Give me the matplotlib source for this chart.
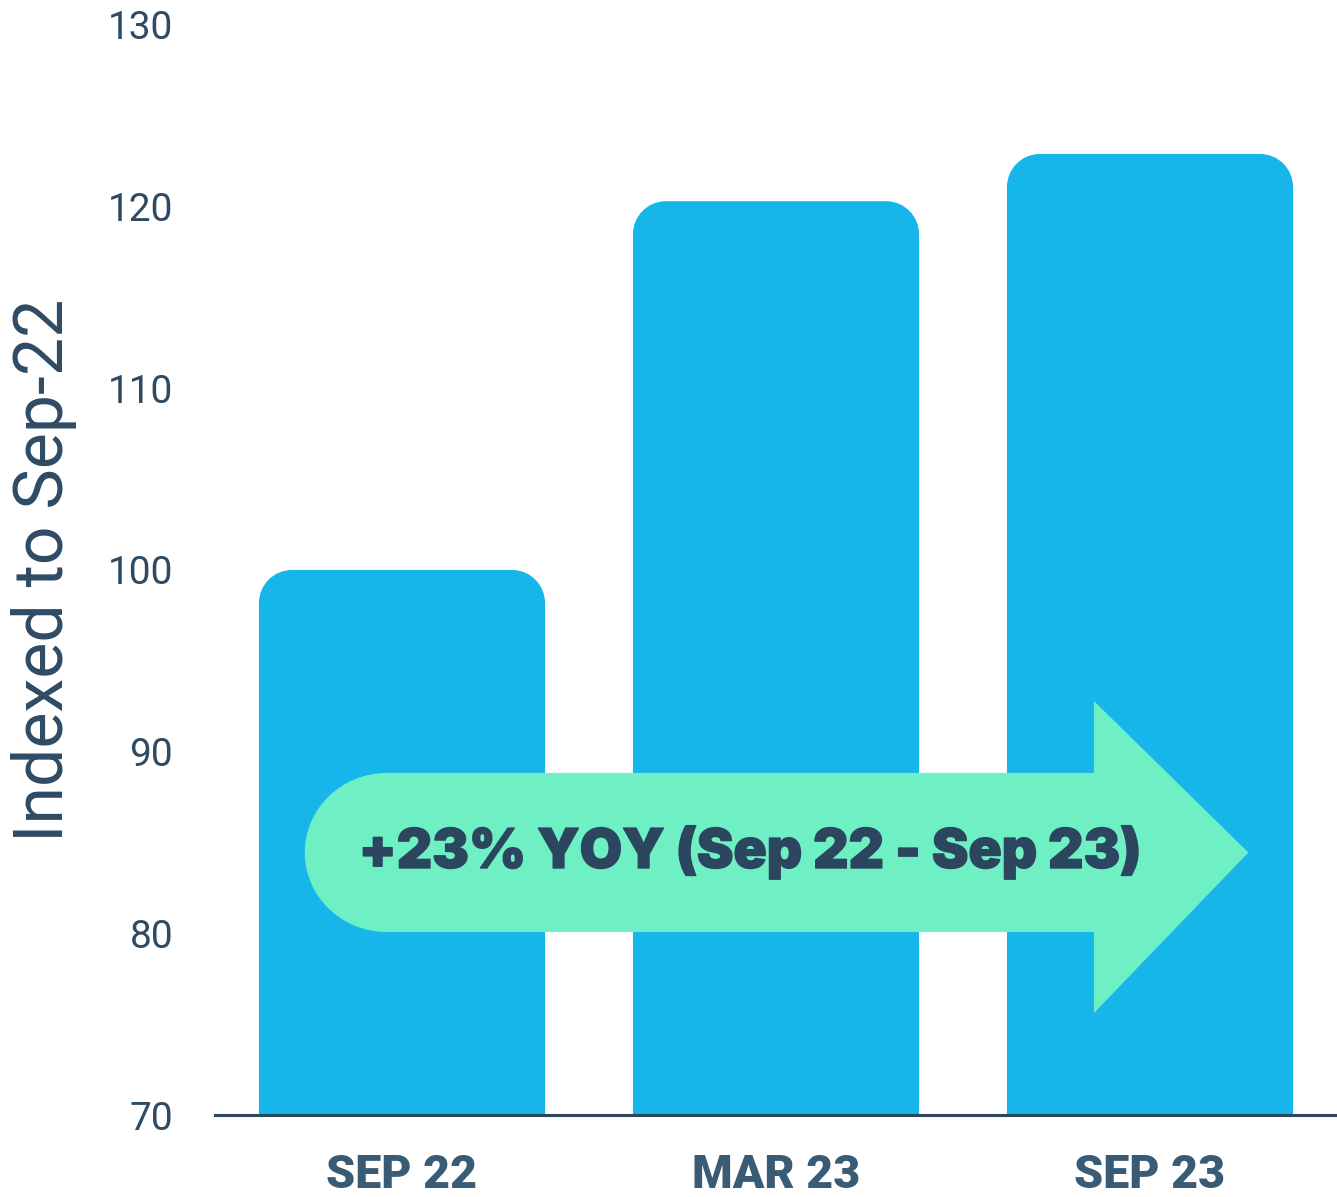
import matplotlib
matplotlib.use("Agg")
import matplotlib.pyplot as plt
import matplotlib.patheffects as pe
import numpy as np
from matplotlib.path import Path
from matplotlib.patches import PathPatch

# chart data
categories = ["SEP 22", "MAR 23", "SEP 23"]
index_values = [100, 120.3, 122.9]
y_ticks = [70, 80, 90, 100, 110, 120, 130]
callout = "+23% YOY (Sep 22 - Sep 23)"

BAR_COLOR = "#16b6eb"
ARROW_COLOR = "#6ef0c4"
DARK = "#2d4660"
TICK_COLOR = "#2f4b64"
XLAB_COLOR = "#3a5b74"

fig = plt.figure(figsize=(13.37, 11.97), dpi=100)
ax = fig.add_axes([215 / 1337, 82 / 1197, 1 - 215 / 1337, 1090 / 1197])

x = np.arange(len(categories))
bars = ax.bar(x, index_values, width=0.765, color=BAR_COLOR)
ax.set_xlim(-0.5, 2.5)
ax.set_ylim(70, 130)


def rounded_top(x0, x1, y0, y1, rx, ry):
    k = 0.5523
    verts = [(x0, y0), (x0, y1 - ry),
             (x0, y1 - ry + k * ry), (x0 + rx - k * rx, y1), (x0 + rx, y1),
             (x1 - rx, y1),
             (x1 - rx + k * rx, y1), (x1, y1 - ry + k * ry), (x1, y1 - ry),
             (x1, y0), (x0, y0)]
    codes = [Path.MOVETO, Path.LINETO,
             Path.CURVE4, Path.CURVE4, Path.CURVE4,
             Path.LINETO,
             Path.CURVE4, Path.CURVE4, Path.CURVE4,
             Path.LINETO, Path.CLOSEPOLY]
    return Path(verts, codes)


# swap the plain rectangles for ones with rounded top corners
for b in bars:
    b.set_visible(False)
    x0, w, h = b.get_x(), b.get_width(), b.get_height()
    p = rounded_top(x0, x0 + w, 0, h, 0.088, 1.82)
    ax.add_patch(PathPatch(p, facecolor=BAR_COLOR, edgecolor="none"))

# growth arrow
bx0, by0, by1 = -0.26, 80.07, 88.83
cy = (by0 + by1) / 2
rx, ry = 0.22, (by1 - by0) / 2
hx, htop, hbot, tip = 1.85, 92.79, 75.61, 2.263
k = 0.5523
verts = [(bx0 + rx, by1), (hx, by1), (hx, htop), (tip, cy), (hx, hbot),
         (hx, by0), (bx0 + rx, by0),
         (bx0 + rx - k * rx, by0), (bx0, cy - k * ry), (bx0, cy),
         (bx0, cy + k * ry), (bx0 + rx - k * rx, by1), (bx0 + rx, by1),
         (bx0 + rx, by1)]
codes = [Path.MOVETO] + [Path.LINETO] * 6 + [Path.CURVE4] * 6 + [Path.CLOSEPOLY]
ax.add_patch(PathPatch(Path(verts, codes), facecolor=ARROW_COLOR,
                       edgecolor="none", zorder=3))
ax.text(0.93, cy, callout, ha="center", va="center", fontsize=39.5,
        fontweight=900, family="Inter", color=DARK, zorder=4,
        path_effects=[pe.withStroke(linewidth=1, foreground=DARK)])

# axes styling
for s in ["top", "right", "left"]:
    ax.spines[s].set_visible(False)
ax.spines["bottom"].set_color(DARK)
ax.spines["bottom"].set_linewidth(2.2)
ax.spines["bottom"].set_zorder(5)

ax.set_yticks(y_ticks)
ax.set_yticklabels([str(t) for t in y_ticks], fontsize=28, family="Roboto",
                   color=TICK_COLOR)
ax.tick_params(axis="y", length=0, pad=30)
ax.set_xticks(x)
ax.set_xticklabels(categories, fontsize=33.5, fontweight=900, family="Roboto",
                   color=XLAB_COLOR)
ax.tick_params(axis="x", length=0, pad=27)
ax.set_ylabel("Indexed to Sep-22", fontsize=49, family="Roboto",
              color=TICK_COLOR, labelpad=22)

fig.savefig("out.png", dpi=100)
